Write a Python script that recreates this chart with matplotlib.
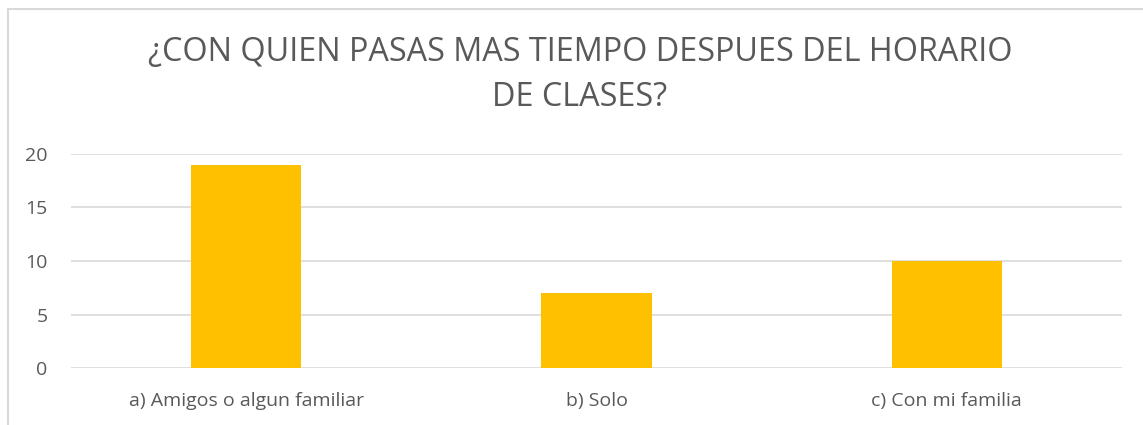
import matplotlib
matplotlib.use('Agg')
import matplotlib.pyplot as plt
from matplotlib.patches import Rectangle

categorias = ['a) Amigos o algun familiar', 'b) Solo', 'c) Con mi familia']
valores = [19, 7, 10]
ticks_y = [0, 5, 10, 15, 20]
titulo = '¿CON QUIEN PASAS MAS TIEMPO DESPUES DEL HORARIO\nDE CLASES?'

gris = '#595959'
plt.rcParams['font.family'] = ['Open Sans', 'DejaVu Sans']

fig = plt.figure(figsize=(11.43, 4.25), dpi=100)
ax = fig.add_axes([71/1143, 1 - 368/425, (1122-71)/1143, (368-154)/425])

x = range(len(categorias))
ax.bar(x, valores, width=0.314, color='#FFC000', zorder=3)
ax.set_xlim(-0.5, 2.5)
ax.set_ylim(0, 20)
ax.set_yticks(ticks_y)
ax.set_xticks(list(x))
ax.set_xticklabels(categorias)
ax.grid(axis='y', color='#D9D9D9', linewidth=1.2, zorder=0)
for s in ax.spines.values():
    s.set_visible(False)
ax.tick_params(length=0, labelsize=14, colors=gris)
ax.tick_params(axis='x', pad=17)
ax.tick_params(axis='y', pad=17)

fig.text(580/1143, 1 - 75/425, titulo, ha='center', va='center', fontsize=23.3,
         color=gris, linespacing=1.5, fontweight='normal')

# borde del grafico
fig.patches.append(Rectangle((8/1143, -0.1), 1.2, 1.1 - 9/425,
                             transform=fig.transFigure, fill=False,
                             edgecolor='#D9D9D9', linewidth=1.5))

fig.savefig('out.png', dpi=100)
